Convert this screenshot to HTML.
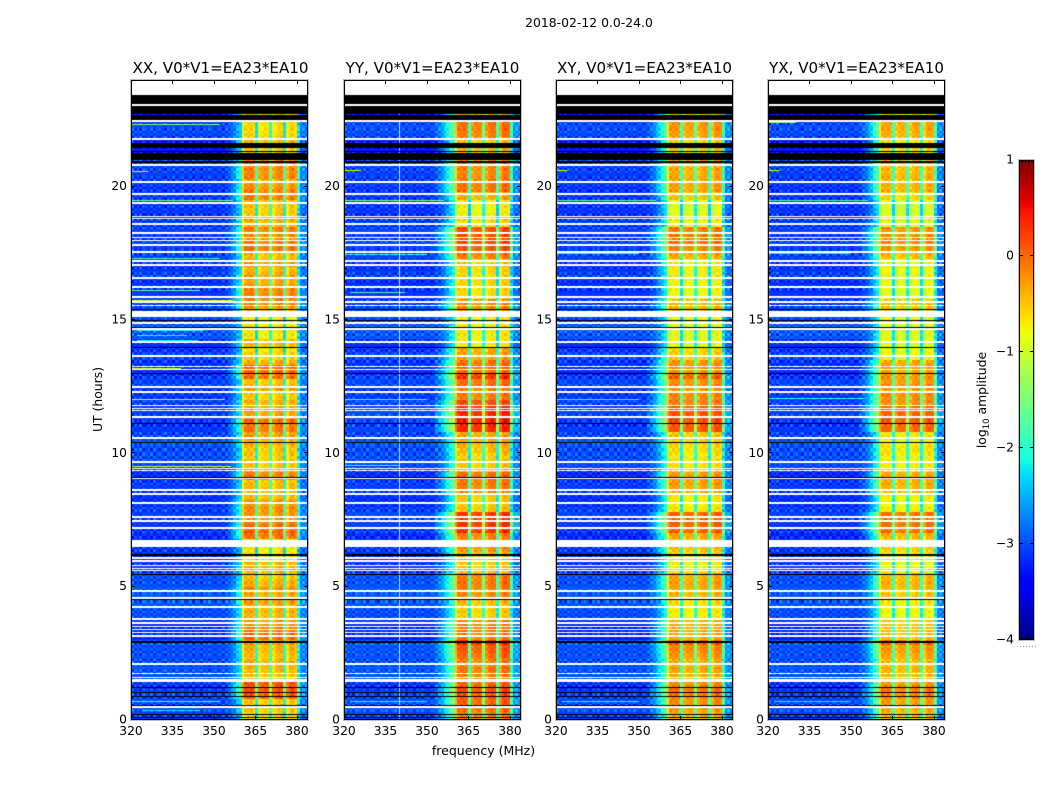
<!DOCTYPE html>
<html lang="en">
<head>
<meta charset="utf-8">
<title>2018-02-12 0.0-24.0 dynamic spectra</title>
<style>
  html,body{margin:0;padding:0;background:#fff;}
  #figure{position:relative;width:1050px;height:800px;overflow:hidden;background:#fff;}
  canvas{position:absolute;display:block;}
  svg{position:absolute;left:0;top:0;}
  text{font-family:"DejaVu Sans","Liberation Sans",sans-serif;fill:#000;}
</style>
</head>
<body>
<div id="figure">
  <canvas id="heat0" width="177" height="640" style="left:131px;top:80px"></canvas>
  <canvas id="heat1" width="177" height="640" style="left:344px;top:80px"></canvas>
  <canvas id="heat2" width="177" height="640" style="left:556px;top:80px"></canvas>
  <canvas id="heat3" width="177" height="640" style="left:768px;top:80px"></canvas>
  <canvas id="cbar" width="15" height="480" style="left:1019px;top:160px"></canvas>
  <svg id="axes" width="1050" height="800" viewBox="0 0 1050 800">
    <text x="589" y="27" text-anchor="middle" font-size="12.4">2018-02-12 0.0-24.0</text>
    <text x="220.5" y="73" text-anchor="middle" font-size="15.1">XX, V0*V1=EA23*EA10</text>
    <text x="432.5" y="73" text-anchor="middle" font-size="15.1">YY, V0*V1=EA23*EA10</text>
    <text x="644.5" y="73" text-anchor="middle" font-size="15.1">XY, V0*V1=EA23*EA10</text>
    <text x="856.5" y="73" text-anchor="middle" font-size="15.1">YX, V0*V1=EA23*EA10</text>
    <text x="483.5" y="755" text-anchor="middle" font-size="12.5">frequency (MHz)</text>
    <text transform="translate(102,399.5) rotate(-90)" text-anchor="middle" font-size="12.4">UT (hours)</text>
    <text transform="translate(986,400) rotate(-90)" text-anchor="middle" font-size="12.4">log<tspan font-size="8.5" dy="3">10</tspan><tspan dy="-3"> amplitude</tspan></text>
  </svg>
</div>
<script>
/* ---------- categories and axis labels ---------- */
const panelIds = ['xx', 'yy', 'xy', 'yx'];
const panelLefts = [131, 344, 556, 768];
const hourTicks = [0, 5, 10, 15, 20];
const mhzTicks = [320, 335, 350, 365, 380];
const colorTicks = [1, 0, -1, -2, -3, -4];
const colorTickLabels = ['1', '0', '\u22121', '\u22122', '\u22123', '\u22124'];

/* ---------- band amplitude (log10) per quarter hour, from 0 UT upward ---------- */
const bandLevelXX = [
-.55,-.5,-.5, .1,.15,.15, -.45,-.4,-.35, -.45,-.35,-.3, .05,-.05,-.2, -.4,-.35,-.25,
-.3,-.15,-.35, -.5,-.35,-.35, -.65,-.65,-.6, 0,.05,-.05, -.2,-.15,-.2, -.45,-.4,-.45,
-.1,-.4,-.5, -.5,-.45,-.35, -.25,-.05,0, -.25,-.3,-.35, -.5,-.2,-.45, 0,.05,-.3,
-.55,-.6,-.4, -.7,-.65,-.7, -.7,-.3,-.1, -.1,-.15,-.3, -.3,-.4,-.25, -.45,-.05,-.1,
-.15,-.1,-.35, -.45,-.5,-.45, -.1,-.15,-.25, -.15,-.15,-.1, -.4,-.5,-.4, -.55,-.6,-.55,
-.35,-.5,-.5, -.5,-.5,-.5];
const bandLevelYY = [
-.1,-.05,.05, .1,.15,0, -.1,-.05,-.1, 0,.1,.3, -.1,-.05,-.1, -.55,-.5,-.45,
-.15,-.1,-.05, -.1,-.5,-.5, -.4,-.2,-.2, -.1,.3,.3, .3,-.45,-.5, -.5,-.1,-.05,
0,-.45,-.5, -.55,-.4,-.35, -.3,.35,.4, .4,.35,.15, -.1,-.1,0, .3,0,0,
-.3,-.3,-.7, -.7,-.7,-.75, -.7,-.15,-.15, -.6,-.6,-.55, -.6,-.55,-.5, -.1,.1,.15,
.15,.15,-.6, -.7,-.75,-.75, -.35,-.05,-.05, -.15,-.15,-.1, -.4,-.4,-.5, -.1,-.05,0,
-.3,-.5,-.5, -.5,-.5,-.5];
const bandLevelXY = [
-.35,-.3,-.2, -.1,-.05,-.2, -.35,-.3,-.35, -.25,-.15,.05, -.35,-.3,-.35, -.75,-.7,-.65,
-.4,-.35,-.3, -.35,-.7,-.7, -.6,-.45,-.45, -.3,.05,.05, .05,-.65,-.7, -.7,-.3,-.25,
-.25,-.6,-.65, -.7,-.6,-.55, -.5,.1,.15, .15,.1,-.1, -.15,-.2,-.2, .05,-.2,-.2,
-.55,-.55,-.85, -.85,-.9,-.85, -.85,-.4,-.4, -.8,-.8,-.75, -.75,-.7,-.7, -.35,-.15,-.05,
-.05,-.1,-.75, -.8,-.9,-.9, -.5,-.3,-.3, -.35,-.35,-.3, -.5,-.5,-.6, -.3,-.25,-.2,
-.45,-.6,-.6, -.6,-.6,-.6];
const bandLevelYX = [
-.45,-.4,-.3, -.15,-.1,-.3, -.45,-.4,-.45, -.35,-.25,-.05, -.5,-.45,-.5, -.85,-.8,-.75,
-.5,-.45,-.4, -.45,-.8,-.8, -.7,-.55,-.55, -.4,-.05,-.05, -.05,-.75,-.8, -.75,-.4,-.35,
-.35,-.7,-.75, -.75,-.65,-.8, -.7,0,.05, .05,0,-.2, -.2,-.25,-.25, -.25,-.3,-.3,
-.8,-.85,-.9, -.9,-.95,-.9, -.9,-.5,-.5, -.9,-.9,-.85, -.85,-.8,-.8, -.45,-.25,-.2,
-.2,-.25,-.85, -.9,-1,-1, -.6,-.4,-.4, -.4,-.45,-.4, -.6,-.6,-.7, -.4,-.35,-.3,
-.5,-.7,-.7, -.7,-.7,-.7];

/* ---------- off-band noise floor offset per quarter hour ---------- */
const floorLevel = [
0,.1,.05, -.05,-.1,-.1, .05,.1,.05, .05,.05,.1, -.2,-.15,-.1, .05,.05,.1,
.1,.1,.05, .05,0,-.05, -.1,-.05,-.1, -.15,-.1,-.1, -.05,0,-.1, -.1,-.05,-.05,
-.15,0,.05, .05,.05,.1, 0,-.1,-.1, -.05,-.05,0, -.05,-.1,0, -.1,-.15,-.1,
0,-.05,-.1, .1,.15,.1, .05,0,-.05, -.05,-.1,-.1, 0,-.05,-.05, 0,-.05,0,
-.05,0,-.05, -.1,-.05,-.05, -.05,-.1,-.05, -.05,0,.05, -.25,-.2,-.25, 0,.05,0,
-.2,-.2,-.2, -.2,-.2,-.2];

/* ---------- passband shape per 1 MHz channel, 320 to 383 MHz ---------- */
const bandGainXX = [
-4,-4,-4,-4,-4,-4,-4,-4,-4,-4, -4,-4,-4,-4,-4,-4,-4,-4,-4,-4,
-4,-4,-4,-4,-4,-4,-4,-4,-4,-4, -4,-4,-4,-4,-4,-3.2,-2.9,-2.6,-2.2,-2,
-.4,-.02,.02,.04,-.05,-1.8,-.25,-.1,-.05,-.08, -1.5,-.25,-.05,.03,.05,-1.8,-.3,0,.05,-.1,
-1.9,-3,-3,-3];
const bandGainYY = [
-4,-4,-4,-4,-4,-4,-4,-4,-4,-4, -4,-4,-4,-4,-4,-4,-4,-4,-4,-4,
-4,-4,-4,-4,-4,-4,-4,-4,-4,-4, -4,-4,-4,-3.2,-3,-2.7,-2.4,-2.1,-1.8,-1.6,
-.45,-.03,.02,.02,-.04,-1.8,-.25,-.08,-.08,-.1, -1.5,-.25,-.02,.04,.02,-1.8,-.3,.08,.1,.04,
-1.9,-2.9,-2.9,-3];
const bandGainXY = [
-4,-4,-4,-4,-4,-4,-4,-4,-4,-4, -4,-4,-4,-4,-4,-4,-4,-4,-4,-4,
-4,-4,-4,-4,-4,-4,-4,-4,-4,-4, -4,-4,-4,-3.3,-3,-2.7,-2.4,-2.1,-1.8,-1.5,
-.4,0,.03,.02,-.03,-1.6,-.2,-.05,-.05,-.06, -1.4,-.2,-.02,.04,.02,-1.6,-.25,.06,.08,.03,
-1.7,-2.8,-2.8,-2.9];
const bandGainYX = [
-4,-4,-4,-4,-4,-4,-4,-4,-4,-4, -4,-4,-4,-4,-4,-4,-4,-4,-4,-4,
-4,-4,-4,-4,-4,-4,-4,-4,-4,-4, -4,-4,-4,-3.3,-3,-2.7,-2.4,-2.1,-1.7,-1.4,
-.35,.02,.04,.03,-.02,-1.5,-.2,-.03,-.03,-.05, -1.4,-.2,0,.05,.03,-1.5,-.25,.06,.08,.02,
-1.5,-2.8,-2.8,-2.9];
const chanFloor = [
-3.03,-3.05,-3.07,-3.04,-3.05,-3.08,-3.05,-3.07,-3.06,-3.05, -3.08,-3.07,-3.05,-3.06,-3.09,-3.07,-3.05,-3.08,-3.07,-3.05,
-3.08,-3.09,-3.07,-3.08,-3.05,-3.09,-3.08,-3.07,-3.09,-3.08, -3.07,-3.09,-3.07,-3.05,-3.06,-3.03,-3,-2.97,-2.95,-2.93,
-2.9,-2.9,-2.9,-2.9,-2.9,-2.9,-2.9,-2.9,-2.9,-2.9, -2.9,-2.9,-2.9,-2.9,-2.9,-2.9,-2.9,-2.9,-2.9,-2.9,
-2.75,-2.85,-2.85,-2.9];

/* ---------- channel and row fluctuations read as grain from the picture ---------- */
const chanFine = [
1,-.7,.4,-1,.8,.2,-.5,.9,-.9,.3, .7,-.2,-1,.6,-.4,1,-.8,.1,.9,-.6,
-.3,.8,-1,.5,.2,-.9,.7,-.4,1,-.1, -.7,.6,.3,-1,.9,-.5,.4,-.8,.7,.2,
-.3,.6,-.4,.5,-.6,.1,.4,-.5,.3,-.2, .2,.5,-.4,.3,-.5,.1,.4,-.3,.5,-.2,
.8,-.6,.9,-.7];
const rowFine = [
.12,-.25,.05,.22,-.14,-.3,.18,.08,-.22,.27,-.06,.15,-.28,.1,.24,-.17,-.04,.3,-.2,.07,
-.12,.26,-.3,.03,.19,-.23,.14,-.08,.29,-.16,.06,-.27,.21,.11,-.19,.02,.25,-.29,.16,-.09,
.23,-.13,-.26,.09,.28,-.21,.04,.17,-.3,.13,-.05,.24,-.18,.2,-.11,-.28,.3,.01,-.24,.15,
-.07,.22,.1,-.27,.18,-.15,.26,-.03,-.22,.12,.29,-.2,.06,-.12,.23,-.3,.16,.04,-.25,.19,
-.1,.27,-.17,.08,.21,-.29,.13,-.06,.25,-.23,.02,.18,-.14,.3,-.26,.11,-.02,.2,-.19,.24,
.07,-.28,.15,.22,-.09,-.16,.28,-.24,.05,.13,-.3,.17,.26,-.11,-.2,.09,.3,-.07,-.25,.14,
-.18,.03,.23,-.27,.12,.19,-.13,-.04,.29,-.22,.1,-.16,.25,.06,-.29,.2,-.08,.16,-.23,.27,
.01,-.19,.21,-.1,.28,-.26,.07,.15,-.3,.24,-.12,-.02,.18,-.21,.11,.3,-.15,-.27,.22,.04,
-.06,.26,-.24,.13,-.17,.09,.29,-.2,.02,-.28,.17,.23,-.11,-.05,.25,-.3,.14,.08,-.18,.21,
-.26,.1,.19,-.03,.27,-.22,-.14,.3,.05,-.25,.16,-.09,.24,-.29,.12,.2,-.16,.03,.28,-.21,
.15,-.07,-.27,.22,.06,-.19,.26,-.12,.18,-.3,.09,.25,-.23,.01,.17,-.15,.29,-.04,-.26,.11,
-.2,.23,.07,-.28,.14,.3,-.1,-.17,.21,.04,-.24,.27,-.13,.08,.19,-.3,.12,-.06,.26,-.18];

/* ---------- interference lines: hour, log10 amplitude, start MHz, end MHz ---------- */
const rfiXX = [
[22.35,-1.4,320,352],[20.6,-.6,320,326],[19.5,-1.5,320,357],[17.33,-1.9,320,352],[16.13,-1.7,320,345],
[15.75,-.9,320,357],[14.63,-2.2,322,346],[14.44,-2.1,322,340],[14.25,-2.2,322,344],[13.2,-1,320,338],
[12.04,-1.2,320,354],[9.53,-1,320,356],[.71,-1.8,320,352],[.375,-2.3,324,345]];
const rfiYY = [
[20.63,-.7,320,326],[19.5,-1.4,320,356],[17.48,-2,320,350],[16.05,-1.7,322,342],[12.05,-2,320,350],
[9.55,-2,320,340],[.7,-2.2,322,350]];
const rfiXY = [
[20.63,-1,320,324],[19.5,-1.7,320,356],[17.5,-2.1,320,350],[12.05,-2.1,320,350],[.7,-2.2,322,350]];
const rfiYX = [
[22.43,-1.4,320,330],[20.63,-1,320,324],[19.5,-1.8,320,356],[17.5,-2.2,320,350],[12.08,-2,320,355],[.7,-2.3,322,350]];

/* ---------- flagged channels per polarisation (MHz) ---------- */
const flaggedChannelsXX = [];
const flaggedChannelsYY = [340];
const flaggedChannelsXY = [];
const flaggedChannelsYX = [];

/* ---------- flagged time ranges: hour low, hour high ---------- */
const whiteBlocks = [[23.44,24],[15.11,15.34],[6.49,6.75],[1.43,1.52]];
const whiteLines = [
23.08,22.48,21.77,20.83,20.18,19.71,19.39,18.9,18.79,18.6,18.26,18.08,18,17.81,17.55,17.23,17.06,16.59,16.24,15.86,
15.71,15.64,15.53,14.89,14.7,14.63,14.18,13.65,13.24,13.13,12.49,12.3,11.81,11.7,11.59,11.36,10.61,10.54,9.68,9.45,
9.34,9.08,8.63,8.48,8.14,7.61,7.46,7.2,6.08,5.96,5.81,5.7,5.59,4.84,4.58,4.24,3.79,3.64,3.49,3.41,3.3,3.15,2.1,1.73,1.61,.49];
const blackBlocks = [[23.1,23.44],[22.74,23.04],[22.5,22.69],[21.45,21.64],[21.3,21.34],[21,21.26],[20.89,20.96],[6.16,6.22],[2.89,2.97]];
const blackLines = [15.41,15,14.74,13.99,13.01,11.14,10.43,9.11,5.48,4.54,1.24,1.05,.9,.56,.23,.11];

const panelLevels = [bandLevelXX, bandLevelYY, bandLevelXY, bandLevelYX];
const panelGains = [bandGainXX, bandGainYY, bandGainXY, bandGainYX];
const panelRfi = [rfiXX, rfiYY, rfiXY, rfiYX];
const panelFlagged = [flaggedChannelsXX, flaggedChannelsYY, flaggedChannelsXY, flaggedChannelsYX];

/* ---------- axis functions ---------- */
const PANEL_W = 177, PANEL_H = 640, PANEL_TOP = 80;
const MHZ_MIN = 320, MHZ_MAX = 384, HOUR_MAX = 24, CHAN_MHZ = 1, ROW_HOURS = 0.1, LEVEL_HOURS = 0.25;
function xScale(mhz) { return (mhz - MHZ_MIN) / (MHZ_MAX - MHZ_MIN) * PANEL_W; }
function yScale(hour) { return PANEL_H - hour / HOUR_MAX * PANEL_H; }
function colorPos(v) { return (v + 4) / 5; }
function ramp(t, a) {
  /* piecewise matplotlib jet channel */
  for (let i = 1; i < a.length; i++) {
    if (t <= a[i][0]) {
      return a[i-1][1] + (a[i][1] - a[i-1][1]) * (t - a[i-1][0]) / (a[i][0] - a[i-1][0]);
    }
  }
  return a[a.length-1][1];
}
const JET_R = [[0,0],[.35,0],[.66,1],[.89,1],[1,.5]];
const JET_G = [[0,0],[.125,0],[.375,1],[.64,1],[.91,0],[1,0]];
const JET_B = [[0,.5],[.11,1],[.34,1],[.65,0],[1,0]];
function jet(v) {
  const t = Math.max(0, Math.min(1, colorPos(v)));
  return 'rgb(' + Math.round(255 * ramp(t, JET_R)) + ',' + Math.round(255 * ramp(t, JET_G)) + ',' + Math.round(255 * ramp(t, JET_B)) + ')';
}
function cellValue(p, r, c) {
  const q = Math.min(panelLevels[p].length - 1, Math.floor(r * ROW_HOURS / LEVEL_HOURS));
  const band = panelLevels[p][q] + panelGains[p][c] + rowFine[r] * (0.15 + 1.0 * chanFine[c]);
  const floor = floorLevel[q] + chanFloor[c] + rowFine[r] * chanFine[c] * 1.3;
  return Math.log10(Math.pow(10, band) + Math.pow(10, floor));
}

/* ---------- heatmaps ---------- */
panelIds.forEach(function (id, p) {
  const ctx = document.getElementById('heat' + p).getContext('2d');
  for (let r = 0; r < rowFine.length; r++) {
    const y0 = Math.round(yScale((r + 1) * ROW_HOURS));
    const y1 = Math.round(yScale(r * ROW_HOURS));
    for (let c = 0; c < chanFloor.length; c++) {
      const x0 = Math.round(xScale(MHZ_MIN + c * CHAN_MHZ));
      const x1 = Math.round(xScale(MHZ_MIN + (c + 1) * CHAN_MHZ));
      ctx.fillStyle = jet(cellValue(p, r, c));
      ctx.fillRect(x0, y0, x1 - x0, y1 - y0);
    }
  }
  panelRfi[p].forEach(function (line) {
    ctx.fillStyle = jet(line[1]);
    ctx.fillRect(Math.round(xScale(line[2])), Math.round(yScale(line[0])), Math.round(xScale(line[3]) - xScale(line[2])), 1);
  });
  panelFlagged[p].forEach(function (mhz) {
    ctx.fillStyle = 'rgba(255,255,235,0.85)';
    ctx.fillRect(Math.round(xScale(mhz)), 0, 1, PANEL_H);
  });
  ctx.fillStyle = '#fff';
  whiteBlocks.forEach(function (b) {
    const y0 = Math.round(yScale(b[1]));
    ctx.fillRect(0, y0, PANEL_W, Math.round(yScale(b[0])) - y0);
  });
  whiteLines.forEach(function (h, i) {
    const close = (i > 0 && whiteLines[i - 1] - h < 0.12) || (i < whiteLines.length - 1 && h - whiteLines[i + 1] < 0.12);
    const t = close ? 1 : 2;
    ctx.fillRect(0, Math.round(yScale(h) - t / 2), PANEL_W, t);
  });
  ctx.fillStyle = '#000';
  blackBlocks.forEach(function (b) {
    const y0 = Math.round(yScale(b[1]));
    ctx.fillRect(0, y0, PANEL_W, Math.max(1, Math.round(yScale(b[0])) - y0));
  });
  blackLines.forEach(function (h) {
    ctx.fillRect(0, Math.round(yScale(h)), PANEL_W, 1);
  });
});

/* ---------- colorbar ---------- */
const CB_TOP = 160, CB_H = 480, CB_LEFT = 1019, CB_W = 15;
function cbY(v) { return CB_TOP + (1 - v) / 5 * CB_H; }
(function () {
  const ctx = document.getElementById('cbar').getContext('2d');
  for (let y = 0; y < CB_H; y++) {
    ctx.fillStyle = jet(1 - (y + 0.5) / CB_H * 5);
    ctx.fillRect(0, y, CB_W, 1);
  }
})();

/* ---------- axes, frames, ticks ---------- */
const svg = document.getElementById('axes');
const NS = 'http://www.w3.org/2000/svg';
function line(x1, y1, x2, y2, name, color) {
  const el = document.createElementNS(NS, 'line');
  el.setAttribute('x1', x1);
  el.setAttribute('y1', y1);
  el.setAttribute('x2', x2);
  el.setAttribute('y2', y2);
  el.setAttribute('stroke', color || '#000');
  el.setAttribute('stroke-width', 1);
  
  
  svg.appendChild(el);
}
function frame(x, y, w, h, name) {
  const outer = document.createElementNS(NS, 'rect');
  outer.setAttribute('x', x - 0.5);
  outer.setAttribute('y', y - 0.5);
  outer.setAttribute('width', w + 1);
  outer.setAttribute('height', h + 1);
  outer.setAttribute('fill', 'none');
  outer.setAttribute('stroke', '#bdbdbd');
  
  
  svg.appendChild(outer);
  const inner = document.createElementNS(NS, 'rect');
  inner.setAttribute('x', x + 0.5);
  inner.setAttribute('y', y + 0.5);
  inner.setAttribute('width', w - 1);
  inner.setAttribute('height', h - 1);
  inner.setAttribute('fill', 'none');
  inner.setAttribute('stroke', '#000');
  
  
  svg.appendChild(inner);
}
function label(x, y, str, anchor, name) {
  const el = document.createElementNS(NS, 'text');
  el.setAttribute('x', x);
  el.setAttribute('y', y);
  el.setAttribute('font-size', 12.3);
  el.setAttribute('text-anchor', anchor);
  
  
  el.textContent = str;
  svg.appendChild(el);
}
panelIds.forEach(function (id, p) {
  const left = panelLefts[p];
  frame(left, PANEL_TOP, PANEL_W, PANEL_H, 'panel-frame-' + id);
  mhzTicks.forEach(function (m) {
    const x = Math.round(left + xScale(m)) + 0.5;
    line(x, PANEL_TOP, x, PANEL_TOP + 4, 'x-tick-top-' + id + '-' + m);
    line(x, PANEL_TOP + PANEL_H, x, PANEL_TOP + PANEL_H - 4, 'x-tick-bottom-' + id + '-' + m);
    label(left + xScale(m), 735, String(m), 'middle', 'x-tick-label-' + id + '-' + m);
  });
  hourTicks.forEach(function (h) {
    const y = Math.round(PANEL_TOP + yScale(h)) - 0.5;
    line(left, y, left + 4, y, 'y-tick-left-' + id + '-' + h);
    line(left + PANEL_W, y, left + PANEL_W - 4, y, 'y-tick-right-' + id + '-' + h);
    label(left - 4, PANEL_TOP + yScale(h) + 3.5, String(h), 'end', 'y-tick-label-' + id + '-' + h);
  });
});
frame(CB_LEFT, CB_TOP, CB_W, CB_H, 'colorbar-frame');
colorTicks.forEach(function (v, i) {
  const y = Math.round(cbY(v)) + (v === 1 ? 0.5 : -0.5);
  line(CB_LEFT, y, CB_LEFT + 4, y, 'colorbar-tick-left-' + i);
  line(CB_LEFT + CB_W, y, CB_LEFT + CB_W - 4, y, 'colorbar-tick-right-' + i);
  label(CB_LEFT - 5, cbY(v) + 3.5, colorTickLabels[i], 'end', 'colorbar-tick-label-' + i);
});
/* short inner marks at both colorbar ends, and the faint dotted row beneath it */
[3, 6, 9, 12].forEach(function (dx, i) {
  line(CB_LEFT + dx + 0.5, CB_TOP, CB_LEFT + dx + 0.5, CB_TOP + 3, 'colorbar-end-mark-top-' + i);
  line(CB_LEFT + dx + 0.5, CB_TOP + CB_H, CB_LEFT + dx + 0.5, CB_TOP + CB_H - 3, 'colorbar-end-mark-bottom-' + i);
});
[-2, 1, 4, 7, 10, 13, 16].forEach(function (dx, i) {
  line(CB_LEFT + dx, 646.5, CB_LEFT + dx + 1, 646.5, 'colorbar-dot-' + i, '#9a9a9a');
});
</script>
</body>
</html>
